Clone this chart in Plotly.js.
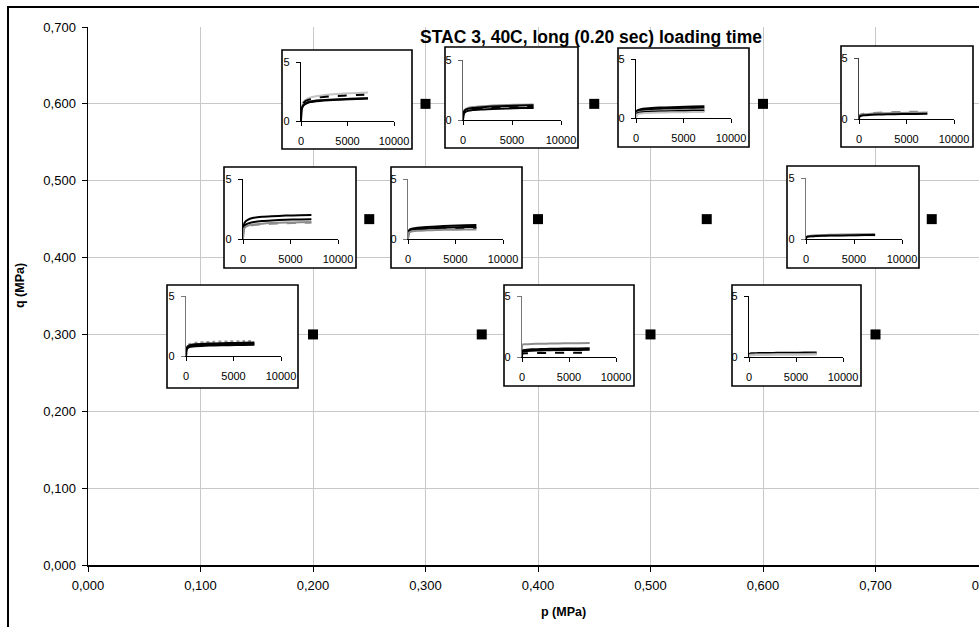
<!DOCTYPE html>
<html><head><meta charset="utf-8">
<script src="https://cdn.plot.ly/plotly-3.0.1.min.js"></script>
<style>html,body{margin:0;padding:0;overflow:hidden;background:#fff}#chart{width:1040px;height:660px}</style>
</head><body><div id="chart"></div><script>
// ---------------- DATA ----------------
const stressP = [0.20, 0.35, 0.50, 0.70, 0.25, 0.40, 0.55, 0.75, 0.30, 0.45, 0.60, 0.80];
const stressQ = [0.30, 0.30, 0.30, 0.30, 0.45, 0.45, 0.45, 0.45, 0.60, 0.60, 0.60, 0.60];
const xTickVals = [0, 0.1, 0.2, 0.3, 0.4, 0.5, 0.6, 0.7, 0.8];
const xTickText = ["0,000", "0,100", "0,200", "0,300", "0,400", "0,500", "0,600", "0,700", "0,800"];
const yTickVals = [0, 0.1, 0.2, 0.3, 0.4, 0.5, 0.6, 0.7];
const yTickText = ["0,000", "0,100", "0,200", "0,300", "0,400", "0,500", "0,600", "0,700"];
const insetXTickVals = [0, 5000, 10000];
const insetXTickText = ["0", "5000", "10000"];
const insetYTickVals = [0, 5];
const insetYTickText = ["0", "5"];
const creepTime = [0, 30, 100, 250, 500, 1000, 2000, 3000, 4500, 6000, 7200];

const strainP030Q060 = [
  [0, 0.90, 1.30, 1.60, 1.80, 2.00, 2.15, 2.25, 2.32, 2.38, 2.42],
  [0, 0.85, 1.20, 1.50, 1.70, 1.85, 2.00, 2.08, 2.15, 2.20, 2.25],
  [0, 0.80, 1.10, 1.35, 1.50, 1.65, 1.75, 1.80, 1.85, 1.90, 1.93],
  [0, 0.75, 1.05, 1.30, 1.45, 1.60, 1.70, 1.76, 1.82, 1.86, 1.90]
];
const strainP045Q060 = [
  [0, 0.50, 0.75, 0.90, 1.00, 1.08, 1.15, 1.20, 1.25, 1.28, 1.30],
  [0, 0.45, 0.70, 0.85, 0.93, 1.00, 1.07, 1.12, 1.16, 1.20, 1.22],
  [0, 0.40, 0.62, 0.75, 0.83, 0.90, 0.96, 1.00, 1.04, 1.08, 1.10],
  [0, 0.35, 0.55, 0.68, 0.76, 0.83, 0.88, 0.92, 0.96, 0.99, 1.00]
];
const strainP060Q060 = [
  [0.10, 0.45, 0.60, 0.68, 0.74, 0.80, 0.86, 0.90, 0.94, 0.98, 1.00],
  [0.10, 0.40, 0.52, 0.60, 0.65, 0.70, 0.75, 0.78, 0.81, 0.84, 0.86],
  [0.05, 0.30, 0.42, 0.50, 0.54, 0.58, 0.62, 0.65, 0.68, 0.70, 0.72],
  [0.05, 0.25, 0.36, 0.42, 0.46, 0.50, 0.53, 0.56, 0.59, 0.61, 0.62],
  [0.00, 0.20, 0.30, 0.35, 0.38, 0.42, 0.45, 0.47, 0.49, 0.50, 0.50]
];
const strainP080Q060 = [
  [0, 0.25, 0.35, 0.40, 0.44, 0.48, 0.52, 0.55, 0.58, 0.60, 0.62],
  [0, 0.20, 0.30, 0.35, 0.38, 0.42, 0.45, 0.48, 0.50, 0.52, 0.53],
  [0, 0.15, 0.22, 0.27, 0.30, 0.33, 0.36, 0.38, 0.40, 0.42, 0.43]
];
const strainP025Q045 = [
  [0, 0.90, 1.20, 1.45, 1.60, 1.75, 1.85, 1.90, 1.95, 1.98, 2.00],
  [0, 0.70, 0.95, 1.15, 1.28, 1.40, 1.50, 1.55, 1.60, 1.63, 1.65],
  [0, 0.60, 0.85, 1.00, 1.10, 1.20, 1.28, 1.33, 1.37, 1.40, 1.42],
  [0, 0.55, 0.80, 0.95, 1.05, 1.15, 1.22, 1.27, 1.31, 1.34, 1.36]
];
const strainP040Q045 = [
  [0, 0.50, 0.70, 0.82, 0.88, 0.94, 1.00, 1.05, 1.10, 1.14, 1.17],
  [0, 0.45, 0.62, 0.72, 0.78, 0.83, 0.88, 0.92, 0.96, 0.99, 1.00],
  [0, 0.42, 0.58, 0.68, 0.73, 0.78, 0.82, 0.85, 0.88, 0.90, 0.92],
  [0, 0.38, 0.52, 0.60, 0.65, 0.69, 0.72, 0.75, 0.77, 0.79, 0.80]
];
const strainP075Q045 = [
  [0, 0.15, 0.20, 0.24, 0.27, 0.30, 0.33, 0.35, 0.37, 0.39, 0.40],
  [0, 0.10, 0.15, 0.18, 0.20, 0.23, 0.25, 0.27, 0.29, 0.30, 0.31],
  [0, 0.12, 0.17, 0.20, 0.22, 0.25, 0.27, 0.29, 0.30, 0.32, 0.33]
];
const strainP020Q030 = [
  [0, 0.55, 0.78, 0.92, 1.00, 1.08, 1.14, 1.17, 1.20, 1.22, 1.24],
  [0, 0.50, 0.72, 0.85, 0.92, 0.98, 1.02, 1.05, 1.08, 1.10, 1.12],
  [0, 0.45, 0.65, 0.77, 0.84, 0.90, 0.94, 0.97, 1.00, 1.02, 1.03],
  [0, 0.40, 0.60, 0.70, 0.76, 0.82, 0.86, 0.88, 0.90, 0.92, 0.93]
];
const strainP050Q030 = [
  [0, 1.00, 1.02, 1.04, 1.05, 1.07, 1.09, 1.10, 1.12, 1.13, 1.14],
  [0, 0.50, 0.55, 0.58, 0.60, 0.63, 0.65, 0.67, 0.69, 0.70, 0.71],
  [0, 0.40, 0.45, 0.48, 0.50, 0.52, 0.54, 0.56, 0.57, 0.58, 0.60],
  [0, 0.25, 0.28, 0.30, 0.31, 0.32, 0.33, 0.34, 0.35, 0.35, 0.36]
];
const strainP070Q030 = [
  [0, 0.25, 0.28, 0.30, 0.31, 0.32, 0.33, 0.34, 0.35, 0.36, 0.37],
  [0, 0.15, 0.18, 0.20, 0.21, 0.22, 0.23, 0.24, 0.25, 0.25, 0.26],
  [0, 0.10, 0.12, 0.14, 0.15, 0.16, 0.17, 0.18, 0.18, 0.19, 0.20]
];

// ---------------- STYLE / LAYOUT CONFIG ----------------
const FONT = "Liberation Sans, Arial, sans-serif";
const lineStyles = {
  k:  {color: "#000000", width: 2, dash: "solid"},
  kd: {color: "#000000", width: 2, dash: "dash"},
  g:  {color: "#8c8c8c", width: 2, dash: "solid"},
  gd: {color: "#8c8c8c", width: 2, dash: "dash"},
  gdot: {color: "#9a9a9a", width: 2.5, dash: "dot"},
  lg: {color: "#c4c4c4", width: 2, dash: "solid"}
};
// pixel frames: box [x0,y0,x1,y1], axes [x(0), x(10000), y(0), y(5)]
const insets = [
  {data: strainP030Q060, styles: ["lg", "kd", "k", "k"], box: [282, 50, 412, 149], ax: [301, 394, 121, 62], yc: "#000"},
  {data: strainP045Q060, styles: ["g", "k", "kd", "k"], box: [445, 47, 578, 148], ax: [463, 561, 120, 60], yc: "#666"},
  {data: strainP060Q060, styles: ["k", "k", "g", "k", "lg"], box: [618, 48, 749, 147], ax: [636, 731, 118, 59], yc: "#000"},
  {data: strainP080Q060, styles: ["gd", "g", "k"], box: [841, 46, 973, 147], ax: [859, 954, 119, 58], yc: "#444"},
  {data: strainP025Q045, styles: ["k", "k", "g", "gd"], box: [224, 167, 356, 268], ax: [243, 338, 239, 179], yc: "#000"},
  {data: strainP040Q045, styles: ["k", "k", "kd", "g"], box: [391, 167, 522, 268], ax: [408, 503, 239, 179], yc: "#777"},
  {data: strainP075Q045, styles: ["g", "lg", "k"], box: [787, 166, 919, 268], ax: [806, 902, 239, 178], yc: "#777"},
  {data: strainP020Q030, styles: ["gdot", "k", "k", "k"], box: [167, 285, 298, 388], ax: [186, 281, 356, 296], yc: "#777"},
  {data: strainP050Q030, styles: ["g", "k", "k", "kd"], box: [504, 285, 634, 386], ax: [522, 616, 357, 296], yc: "#777"},
  {data: strainP070Q030, styles: ["k", "g", "lg"], box: [732, 285, 861, 386], ax: [749, 843, 357, 296], yc: "#000"}
];

const W = 1040, H = 660, L = 88, T = 27, PW = 900, PH = 538, XMAX = 0.8, YMAX = 0.7;
const pX = px => (px - L) / PW;
const pY = py => (T + PH - py) / PH;
const dX = px => (px - L) / PW * XMAX;
const dY = py => (T + PH - py) / PH * YMAX;

const traces = [{
  type: "scatter", mode: "markers", x: stressP, y: stressQ, xaxis: "x", yaxis: "y",
  marker: {symbol: "square", size: 10, color: "#000"}, cliponaxis: false, hoverinfo: "skip"
}];

const layout = {
  width: W, height: H,
  margin: {l: L, r: W - L - PW, t: T, b: H - T - PH},
  paper_bgcolor: "#fff", plot_bgcolor: "#fff",
  showlegend: false, hovermode: false,
  font: {family: FONT, color: "#000"},
  title: {text: "<b>STAC 3, 40C, long (0.20 sec) loading time</b>", font: {family: FONT, size: 17.5, color: "#000"},
          x: 591 / W, y: 1 - 37 / H, xref: "container", yref: "container", xanchor: "center", yanchor: "middle"},
  xaxis: {
    range: [0, XMAX], tickvals: xTickVals, ticktext: xTickText, showgrid: true, gridcolor: "#c8c8c8", gridwidth: 1,
    zeroline: false, showline: true, linecolor: "#000", linewidth: 1.5, ticks: "outside", ticklen: 5, tickcolor: "#000",
    tickfont: {family: FONT, size: 13, color: "#000"}, ticklabelstandoff: 3
  },
  yaxis: {
    range: [0, YMAX], tickvals: yTickVals, ticktext: yTickText, showgrid: true, gridcolor: "#c8c8c8", gridwidth: 1,
    zeroline: false, showline: true, linecolor: "#000", linewidth: 1.5, ticks: "outside", ticklen: 5, tickcolor: "#000",
    tickfont: {family: FONT, size: 13, color: "#000"}, ticklabelstandoff: 3
  },
  annotations: [
    {text: "<b>p (MPa)</b>", xref: "paper", yref: "paper", x: pX(563), y: pY(612), xanchor: "center", yanchor: "middle",
     showarrow: false, font: {family: FONT, size: 12.5, color: "#000"}},
    {text: "<b>q (MPa)</b>", xref: "paper", yref: "paper", x: pX(20), y: pY(286), xanchor: "center", yanchor: "middle",
     textangle: -90, showarrow: false, font: {family: FONT, size: 12.5, color: "#000"}}
  ],
  shapes: [{
    type: "rect", xref: "paper", yref: "paper", layer: "below",
    x0: pX(8), x1: 1.3, y0: -0.4, y1: pY(7), line: {color: "#000", width: 2}, fillcolor: "rgba(0,0,0,0)"
  }]
};

insets.forEach((ins, i) => {
  const n = i + 2;
  const [bx0, by0, bx1, by1] = ins.box;
  const [ax0, ax1, ay0, ay1] = ins.ax;
  layout.shapes.push({
    type: "rect", xref: "x", yref: "y", layer: "between",
    x0: dX(bx0), x1: dX(bx1), y0: dY(by1), y1: dY(by0),
    line: {color: "#000", width: 1.6}, fillcolor: "#fff"
  });
  layout["xaxis" + n] = {
    domain: [pX(ax0), pX(ax1)], anchor: "y" + n, range: [0, 10000], fixedrange: true,
    tickvals: insetXTickVals, ticktext: insetXTickText, showgrid: false, zeroline: false,
    showline: true, linecolor: "#000", linewidth: 1.3, ticks: "outside", ticklen: 4, tickcolor: "#000",
    tickfont: {family: FONT, size: 11, color: "#000"}, ticklabelstandoff: 5
  };
  layout["yaxis" + n] = {
    domain: [pY(ay0), pY(ay1)], anchor: "x" + n, range: [0, 5], fixedrange: true,
    tickvals: insetYTickVals, ticktext: insetYTickText, showgrid: false, zeroline: false,
    showline: true, linecolor: ins.yc, linewidth: 1.3, ticks: "outside", ticklen: 4, tickcolor: ins.yc,
    tickfont: {family: FONT, size: 11, color: "#000"}, ticklabelstandoff: 4
  };
  ins.data.forEach((series, j) => {
    const st = lineStyles[ins.styles[j]];
    traces.push({
      type: "scatter", mode: "lines", x: creepTime, y: series, xaxis: "x" + n, yaxis: "y" + n,
      line: {color: st.color, width: st.width, dash: st.dash, shape: "spline", smoothing: 0.6}, hoverinfo: "skip"
    });
  });
});

Plotly.newPlot("chart", traces, layout, {staticPlot: true, displayModeBar: false});
</script></body></html>
